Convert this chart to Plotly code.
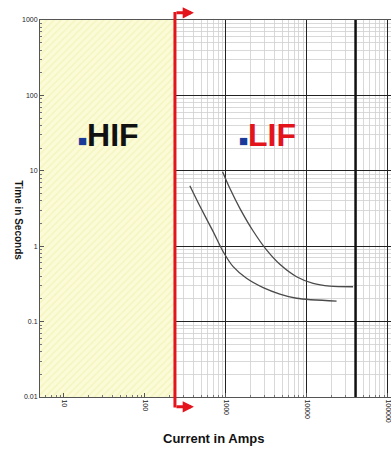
import math
import plotly.graph_objects as go

# ---- data ----
x_range_amps = [5.06, 109600]
y_range_sec = [0.01, 1000]

boundary_amps = 235        # HIF / LIF boundary (red arrow line)
max_fault_amps = 40000     # heavy vertical line

curve_a_amps = [910, 1119, 1489, 2173, 3177, 4642, 7464, 11970, 19200, 37300]
curve_a_sec = [9.73, 5.86, 3.18, 1.59, 0.892, 0.575, 0.394, 0.322, 0.296, 0.290]

curve_b_amps = [359, 477, 697, 927, 1231, 1799, 2890, 4642, 7464, 23300]
curve_b_sec = [6.34, 3.41, 1.56, 0.845, 0.535, 0.375, 0.282, 0.232, 0.204, 0.187]

x_tickvals = [10, 100, 1000, 10000, 100000]
x_ticktext = ["10", "100", "1000", "10000", "100000"]
y_tickvals = [0.01, 0.1, 1, 10, 100, 1000]
y_ticktext = ["0.01", "0.1", "1", "10", "100", "1000"]

FONT = "Liberation Sans, Arial, sans-serif"
RED = "#e3141c"
BLUE = "#1a3a9a"

fig = go.Figure()

# hatched HIF region
fig.add_trace(go.Scatter(
    x=[x_range_amps[0], boundary_amps, boundary_amps, x_range_amps[0], x_range_amps[0]],
    y=[y_range_sec[0], y_range_sec[0], y_range_sec[1], y_range_sec[1], y_range_sec[0]],
    mode="lines", fill="toself", line=dict(width=0),
    fillcolor="#fbfbd8",
    fillpattern=dict(shape="/", bgcolor="#fbfbd8", fgcolor="#efefa8", size=5, solidity=0.3),
    hoverinfo="skip",
))

for xs, ys in [(curve_a_amps, curve_a_sec), (curve_b_amps, curve_b_sec)]:
    fig.add_trace(go.Scatter(
        x=xs, y=ys, mode="lines",
        line=dict(color="#4a4a4a", width=1.3, shape="spline", smoothing=0.8),
        hoverinfo="skip",
    ))

# heavy vertical line
fig.add_shape(type="line", xref="x", yref="paper", x0=max_fault_amps, x1=max_fault_amps,
              y0=0, y1=1, line=dict(color="#111111", width=2.5), layer="above")
# red boundary line
fig.add_shape(type="line", xref="x", yref="paper", x0=boundary_amps, x1=boundary_amps,
              y0=-0.028, y1=1.021, line=dict(color=RED, width=3), layer="above")

bx = math.log10(boundary_amps)
for yy in [1.019, -0.026]:
    fig.add_annotation(xref="x", yref="paper", x=bx, y=yy, xshift=19, text="",
                       showarrow=True, ax=-19, ay=0, axref="pixel", ayref="pixel",
                       arrowcolor=RED, arrowwidth=3, arrowhead=2, arrowsize=0.75)

sq = f"<span style='font-size:15px;color:{BLUE}'>■</span>"
fig.add_annotation(xref="paper", yref="paper", x=0.103, y=0.695, xanchor="left", yanchor="middle",
                   text=sq + "<b>HIF</b>",
                   showarrow=False, font=dict(family=FONT, size=32, color="#111111"))
fig.add_annotation(xref="paper", yref="paper", x=0.562, y=0.695, xanchor="left", yanchor="middle",
                   text=sq + "<b>LIF</b>",
                   showarrow=False, font=dict(family=FONT, size=32, color=RED))

fig.add_annotation(xref="paper", yref="paper", x=-0.083, y=0.467, text="<b>Time in Seconds</b>",
                   textangle=90, showarrow=False, font=dict(family=FONT, size=10, color="#111111"))
fig.add_annotation(xref="paper", yref="paper", x=0.493, y=-0.135, text="<b>Current in Amps</b>",
                   showarrow=False, font=dict(family=FONT, size=13, color="#111111"))

axis_common = dict(
    type="log", showgrid=True, gridcolor="#222222", gridwidth=1,
    showline=True, linecolor="#555555", linewidth=1, mirror=True,
    ticks="inside", ticklen=4, tickcolor="#555555",
    tickfont=dict(family=FONT, size=7, color="#222222"),
    zeroline=False, ticklabeloverflow="allow",
    minor=dict(dtick="D1", showgrid=True, gridcolor="#cfcfcf", gridwidth=0.8,
               ticks="inside", ticklen=2, tickcolor="#777777"),
)

fig.update_xaxes(range=[math.log10(x_range_amps[0]), math.log10(x_range_amps[1])],
                 tickmode="array", tickvals=x_tickvals, ticktext=x_ticktext, tickangle=90,
                 **axis_common)
fig.update_yaxes(range=[math.log10(y_range_sec[0]), math.log10(y_range_sec[1])],
                 tickmode="array", tickvals=y_tickvals, ticktext=y_ticktext,
                 **axis_common)

fig.update_layout(width=391, height=458, margin=dict(l=40, r=0, t=20, b=61, autoexpand=False),
                  plot_bgcolor="white", paper_bgcolor="white", showlegend=False,
                  font=dict(family=FONT), hovermode=False)

# remove the page's default 8px body margin so the figure fills the window
fig.write_html("out.html", config={"displayModeBar": False, "staticPlot": True},
               post_script="document.body.style.margin='0';document.body.style.overflow='hidden';")
